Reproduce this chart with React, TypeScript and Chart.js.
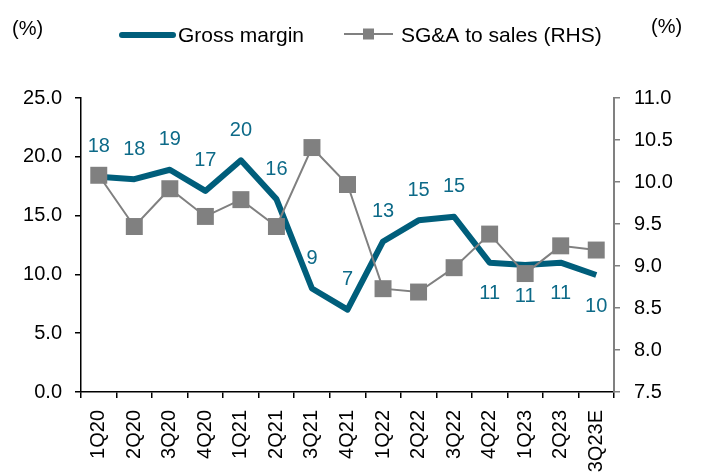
import React, { useEffect, useRef } from 'react';
import { Chart, registerables } from 'chart.js';

Chart.register(...registerables);

const categories = ['1Q20', '2Q20', '3Q20', '4Q20', '1Q21', '2Q21', '3Q21', '4Q21', '1Q22', '2Q22', '3Q22', '4Q22', '1Q23', '2Q23', '3Q23E'];
const grossMargin = [18.3, 18.1, 18.9, 17.1, 19.7, 16.4, 8.8, 7.0, 12.8, 14.6, 14.9, 11.0, 10.8, 11.0, 9.95];
const sgaToSales = [10.08, 9.47, 9.92, 9.59, 9.79, 9.47, 10.41, 9.97, 8.73, 8.69, 8.98, 9.38, 8.91, 9.24, 9.19];
const leftAxisRange = [0, 25, 5];
const rightAxisRange = [7.5, 11, 0.5];
const seriesNames = ['Gross margin', 'SG&A to sales (RHS)'];
const unitLabel = '(%)';

// styling: label placement for gross margin values
const gmLabelBelow = [false, false, false, false, false, false, false, false, false, false, false, true, true, true, true];

const FONT = '"Liberation Sans", Arial, sans-serif';
const TEAL = '#005E7B';
const TEAL_LABEL = '#0D6A88';
const GREY = '#808080';

const overlayPlugin = {
  id: 'overlay',
  afterDatasetsDraw(chart: any) {
    const ctx = chart.ctx;
    const idx = chart.data.datasets.findIndex((d: any) => d.label === seriesNames[0]);
    const meta = chart.getDatasetMeta(idx);
    ctx.save();
    ctx.font = `20px ${FONT}`;
    ctx.fillStyle = TEAL_LABEL;
    ctx.textAlign = 'center';
    ctx.textBaseline = 'middle';
    meta.data.forEach((pt: any, i: number) => {
      const v = grossMargin[i];
      const dy = gmLabelBelow[i] ? 31 : -30;
      ctx.fillText(String(Math.round(v)), pt.x, pt.y + dy);
    });
    ctx.restore();
  },
  afterDraw(chart: any) {
    const ctx = chart.ctx;
    ctx.save();
    ctx.fillStyle = '#000';
    ctx.textBaseline = 'middle';
    ctx.font = `20px ${FONT}`;
    ctx.textAlign = 'left';
    ctx.fillText(unitLabel, 12, 29);
    ctx.fillText(unitLabel, 651, 27);

    // legend item 1
    ctx.strokeStyle = TEAL;
    ctx.lineWidth = 6;
    ctx.lineCap = 'round';
    ctx.beginPath();
    ctx.moveTo(122, 35);
    ctx.lineTo(173, 35);
    ctx.stroke();
    ctx.font = `21px ${FONT}`;
    ctx.fillStyle = '#000';
    ctx.fillText(seriesNames[0], 178, 36);

    // legend item 2
    ctx.strokeStyle = GREY;
    ctx.lineWidth = 2;
    ctx.lineCap = 'butt';
    ctx.beginPath();
    ctx.moveTo(344, 34);
    ctx.lineTo(393, 34);
    ctx.stroke();
    ctx.fillStyle = GREY;
    ctx.fillRect(363, 28.5, 11, 11);
    ctx.fillStyle = '#000';
    ctx.fillText(seriesNames[1], 401, 36);
    ctx.restore();
  },
};

export default function App() {
  const ref = useRef<HTMLCanvasElement | null>(null);

  useEffect(() => {
    if (!ref.current) return;
    const chart = new Chart(ref.current, {
      type: 'line',
      data: {
        labels: categories,
        datasets: [
          {
            label: seriesNames[1],
            data: sgaToSales,
            yAxisID: 'y1',
            borderColor: GREY,
            backgroundColor: GREY,
            borderWidth: 2,
            pointStyle: 'rect',
            pointRadius: 12,
            pointBorderWidth: 0,
            pointBackgroundColor: GREY,
            tension: 0,
            order: 0,
          },
          {
            label: seriesNames[0],
            data: grossMargin,
            yAxisID: 'y',
            borderColor: TEAL,
            backgroundColor: TEAL,
            borderWidth: 6,
            pointRadius: 0,
            borderJoinStyle: 'round',
            tension: 0,
            order: 1,
          },
        ],
      },
      options: {
        animation: false,
        responsive: false,
        layout: { padding: { top: 98, bottom: 0, left: 0, right: 0 } },
        plugins: {
          legend: { display: false },
          tooltip: { enabled: false },
        },
        scales: {
          x: {
            type: 'category',
            offset: true,
            grid: { display: true, drawOnChartArea: false, offset: true, tickLength: 6, color: '#000', lineWidth: 1.5 },
            border: { display: true, color: '#000', width: 1.5 },
            ticks: {
              autoSkip: false,
              maxRotation: 90,
              minRotation: 90,
              padding: 12,
              color: '#000',
              font: { family: FONT, size: 20 },
            },
            afterFit(scale: any) {
              scale.height = 82;
            },
          },
          y: {
            position: 'left',
            min: leftAxisRange[0],
            max: leftAxisRange[1],
            grid: { display: true, drawOnChartArea: false, tickLength: 6, color: '#000', lineWidth: 1.5 },
            border: { display: true, color: '#000', width: 1.5 },
            ticks: {
              stepSize: leftAxisRange[2],
              padding: 13,
              color: '#000',
              font: { family: FONT, size: 20 },
              callback: (v: any) => Number(v).toFixed(1),
            },
            afterFit(scale: any) {
              scale.width = 81;
            },
          },
          y1: {
            position: 'right',
            min: rightAxisRange[0],
            max: rightAxisRange[1],
            grid: { display: true, drawOnChartArea: false, tickLength: 6, color: GREY, lineWidth: 1.5 },
            border: { display: true, color: GREY, width: 2 },
            ticks: {
              stepSize: rightAxisRange[2],
              padding: 14,
              color: '#000',
              font: { family: FONT, size: 20 },
              callback: (v: any) => Number(v).toFixed(1),
            },
            afterFit(scale: any) {
              scale.width = 88;
            },
          },
        },
      },
      plugins: [overlayPlugin],
    });
    return () => chart.destroy();
  }, []);

  return (
    <div style={{ position: 'absolute', left: 0, top: 0, width: 702, height: 474, background: '#fff' }}>
      <canvas ref={ref} width={702} height={474} />
    </div>
  );
}
